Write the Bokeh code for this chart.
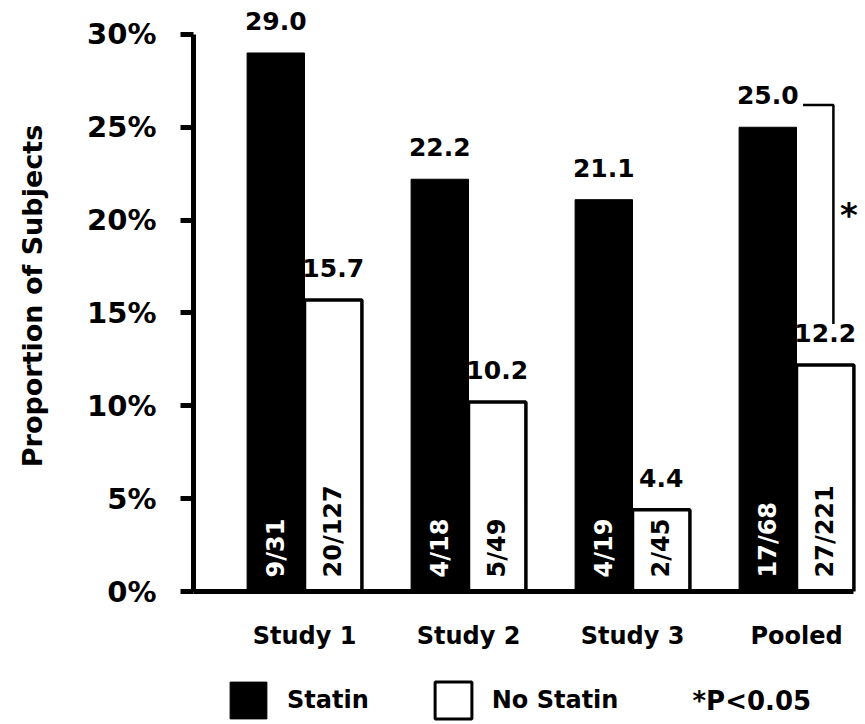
import math

from bokeh.core.properties import value
from bokeh.embed import file_html
from bokeh.layouts import column
from bokeh.models import FixedTicker, Label, Legend, LegendItem
from bokeh.plotting import figure
from bokeh.resources import INLINE

# ---- data -------------------------------------------------------------
studies = ["Study 1", "Study 2", "Study 3", "Pooled"]
statin_pct = [29.0, 22.2, 21.1, 25.0]
no_statin_pct = [15.7, 10.2, 4.4, 12.2]
statin_counts = ["9/31", "4/18", "4/19", "17/68"]
no_statin_counts = ["20/127", "5/49", "2/45", "27/221"]
y_ticks = [0, 5, 10, 15, 20, 25, 30]
y_tick_labels = ["0%", "5%", "10%", "15%", "20%", "25%", "30%"]

# ---- layout constants -------------------------------------------------
FONT = "DejaVu Sans"
W = 865
H_MAIN, H_KEY = 660, 64
LEFT, BOTTOM = 193, 69
PX_X = 164.0            # pixels per study group
PX_Y = 18.57            # pixels per percentage point
BAR_W = 0.35
X_START = -111 / PX_X
X_END = X_START + (W - LEFT) / PX_X
Y_END = (H_MAIN - BOTTOM) / PX_Y

idx = list(range(len(studies)))
x_statin = [i - BAR_W / 2 for i in idx]
x_none = [i + BAR_W / 2 for i in idx]

p = figure(
    width=W, height=H_MAIN,
    x_range=(X_START, X_END), y_range=(0, Y_END),
    output_backend="svg", toolbar_location=None,
    min_border_left=LEFT, min_border_right=0,
    min_border_top=0, min_border_bottom=BOTTOM,
)
p.outline_line_color = None
p.grid.visible = False

# bars
STATIN_STYLE = dict(fill_color="black", line_color="black", line_width=1)
NONE_STYLE = dict(fill_color="white", line_color="black", line_width=3.5)
p.vbar(x=x_none, top=no_statin_pct, width=BAR_W, **NONE_STYLE)
p.vbar(x=x_statin, top=statin_pct, width=BAR_W, **STATIN_STYLE)

# value labels above bars
common = dict(text_font=value(FONT), text_font_style="bold",
              text_align="center", text_baseline="alphabetic",
              text_color="black", text_font_size="25px", y_offset=-32)
p.text(x=x_statin, y=statin_pct, text=[f"{v:.1f}" for v in statin_pct], **common)
p.text(x=x_none, y=no_statin_pct, text=[f"{v:.1f}" for v in no_statin_pct], **common)

# counts written vertically inside the bars
rot = dict(text_font=value(FONT), text_font_style="bold", angle=math.pi / 2,
           text_align="left", text_baseline="middle", text_font_size="24px",
           y_offset=-14)
p.text(x=x_statin, y=[0] * len(idx), text=statin_counts, text_color="white", **rot)
p.text(x=x_none, y=[0] * len(idx), text=no_statin_counts, text_color="black", **rot)

# significance bracket for the pooled comparison
k = idx[-1]
b_top = statin_pct[k] + 1.2
b_bot = no_statin_pct[k] + 2.2
p.line(x=[k + 0.04, k + 0.225, k + 0.225], y=[b_top, b_top, b_bot],
       line_color="black", line_width=2.5)
p.text(x=[k + 0.32], y=[(b_top + b_bot) / 2], text=["*"],
       text_font=value(FONT), text_font_style="bold", text_font_size="34px",
       text_align="center", text_baseline="alphabetic", y_offset=0,
       text_color="black")

# axes
ya = p.yaxis[0]
ya.ticker = FixedTicker(ticks=y_ticks)
ya.major_label_overrides = {t: lab for t, lab in zip(y_ticks, y_tick_labels)}
ya.bounds = (0, 30)
ya.axis_line_width = 5
ya.major_tick_line_width = 5
ya.major_tick_out = 13
ya.major_tick_in = 0
ya.minor_tick_line_color = None
ya.major_label_text_font = FONT
ya.major_label_text_font_style = "bold"
ya.major_label_text_font_size = "29px"
ya.major_label_text_color = "black"
ya.major_label_standoff = 24
ya.axis_label = "Proportion of Subjects"
ya.axis_label_text_font = FONT
ya.axis_label_text_font_style = "bold"
ya.axis_label_text_font_size = "27px"
ya.axis_label_text_color = "black"
ya.axis_label_standoff = 36

xa = p.xaxis[0]
xa.ticker = FixedTicker(ticks=idx)
xa.major_label_overrides = {i: s for i, s in zip(idx, studies)}
xa.bounds = (X_START, idx[-1] + BAR_W)
xa.axis_line_width = 5
xa.major_tick_line_color = None
xa.minor_tick_line_color = None
xa.major_label_text_font = FONT
xa.major_label_text_font_style = "bold"
xa.major_label_text_font_size = "24px"
xa.major_label_text_color = "black"
xa.major_label_standoff = 24

# key strip under the chart; its frame lines up with the chart frame,
# so its x range runs in canvas pixels from LEFT to W
key = figure(
    width=W, height=H_KEY, x_range=(LEFT, W), y_range=(0, H_KEY),
    output_backend="svg", toolbar_location=None,
    x_axis_type=None, y_axis_type=None,
    min_border_left=LEFT, min_border_right=0, min_border_top=0, min_border_bottom=0,
)
key.outline_line_color = None
key.grid.visible = False
nan = float("nan")
k_statin = key.vbar(x=[nan], top=[nan], width=1, **STATIN_STYLE)
k_none = key.vbar(x=[nan], top=[nan], width=1,
                  **dict(NONE_STYLE, line_width=3))

legend = Legend(
    items=[LegendItem(label="Statin", renderers=[k_statin]),
           LegendItem(label="No Statin", renderers=[k_none])],
    location=(225 - LEFT, 1), orientation="horizontal",
    glyph_width=46, glyph_height=46, label_standoff=16, spacing=61,
    padding=0, margin=0, border_line_color=None, background_fill_alpha=0,
    label_text_font=FONT, label_text_font_style="bold",
    label_text_font_size="24px", label_text_color="black",
)
key.add_layout(legend)
key.add_layout(Label(x=692, y=24, text="*P<0.05", text_font=FONT,
                     text_font_style="bold", text_font_size="26px",
                     text_baseline="middle", text_color="black"))

open("out.html", "w").write(file_html(column(p, key), INLINE))
